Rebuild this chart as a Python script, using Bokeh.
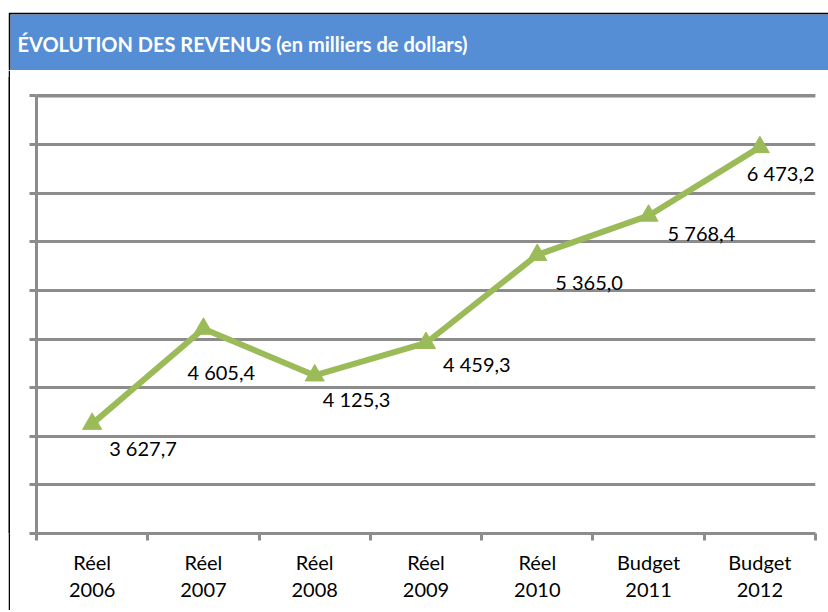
from bokeh.plotting import figure
from bokeh.models import (ColumnDataSource, FixedTicker, SingleIntervalTicker,
                          Range1d, Label)
from bokeh.layouts import column, row
from bokeh.core.properties import value
from bokeh.embed import file_html
from bokeh.resources import INLINE

# ---- data ----
categories = ["Réel\n2006", "Réel\n2007", "Réel\n2008", "Réel\n2009",
              "Réel\n2010", "Budget\n2011", "Budget\n2012"]
revenus = [3627.7, 4605.4, 4125.3, 4459.3, 5365.0, 5768.4, 6473.2]
labels = ["3 627,7", "4 605,4", "4 125,3", "4 459,3", "5 365,0", "5 768,4", "6 473,2"]
y_min, y_max, y_step = 2500, 7000, 500
title_text = "ÉVOLUTION DES REVENUS (en milliers de dollars)"

# label placement offsets (screen px, from each point)
label_dx = [17, -16, 8, 17, 18, 19, -13]
label_dy = [24, 43, 24, 21, 27, 17, 26]

GREEN = "#9BBB59"
GRAY = "#8C8C8C"
BLUE = "#558ED5"
FONT = "Lato"

centers = [i + 0.5 for i in range(len(categories))]
bounds = list(range(len(categories) + 1))

src = ColumnDataSource(dict(x=centers, y=revenus, lab=labels, dx=label_dx, dy=label_dy))

# ---- title bar (black top/left border around a blue band) ----
t = figure(width=820, height=58, output_backend="svg", toolbar_location=None,
           x_range=Range1d(0, 818), y_range=Range1d(0, 56),
           x_axis_type=None, y_axis_type=None,
           min_border_left=2, min_border_top=2, min_border_right=0, min_border_bottom=0,
           background_fill_color=BLUE, border_fill_color="black",
           outline_line_color=None)
t.grid.visible = False
t.add_layout(Label(x=7, y=27, text=title_text,
                   text_color="white", text_font=FONT, text_font_style="bold",
                   text_font_size="20px", text_baseline="middle"))

# left black border strip next to the chart
s = figure(width=2, height=540, output_backend="svg", toolbar_location=None,
           x_axis_type=None, y_axis_type=None, min_border=0,
           background_fill_color="black", border_fill_color="black",
           outline_line_color=None)
s.grid.visible = False

# ---- main chart ----
p = figure(width=818, height=540, output_backend="svg", toolbar_location=None,
           x_range=Range1d(0, len(categories)), y_range=Range1d(y_min, y_max + 2 * y_step / 5),
           min_border_left=26, min_border_right=13, min_border_top=6, min_border_bottom=77,
           background_fill_color="white", border_fill_color="white",
           outline_line_color=None)

p.xgrid.visible = False
p.ygrid.ticker = SingleIntervalTicker(interval=y_step, num_minor_ticks=0)
p.ygrid.grid_line_color = GRAY
p.ygrid.grid_line_width = 3

# top gridline at the axis maximum, drawn explicitly
p.segment(x0=[0], y0=[y_max], x1=[len(categories)], y1=[y_max],
          line_color=GRAY, line_width=3)

# y axis: ticks only, no labels
p.yaxis.ticker = SingleIntervalTicker(interval=y_step, num_minor_ticks=0)
p.yaxis.bounds = (y_min, y_max)
p.yaxis.axis_line_color = GRAY
p.yaxis.axis_line_width = 3
p.yaxis.major_tick_line_color = GRAY
p.yaxis.major_tick_line_width = 3
p.yaxis.major_tick_out = 7
p.yaxis.major_tick_in = 0
p.yaxis.minor_tick_line_color = None
p.yaxis.major_label_text_color = None
p.yaxis.major_label_standoff = 0

# x axis: boundary ticks, category labels at centres
p.xaxis.ticker = FixedTicker(ticks=centers, minor_ticks=bounds)
p.xaxis.major_label_overrides = {c: cat for c, cat in zip(centers, categories)}
p.xaxis.axis_line_color = GRAY
p.xaxis.axis_line_width = 3
p.xaxis.major_tick_line_color = None
p.xaxis.minor_tick_line_color = GRAY
p.xaxis.minor_tick_line_width = 3
p.xaxis.minor_tick_out = 7
p.xaxis.minor_tick_in = 0
p.xaxis.major_label_standoff = 9
p.xaxis.major_label_text_font = FONT
p.xaxis.major_label_text_font_size = "20px"
p.xaxis.major_label_text_color = "black"
p.xaxis.major_label_text_line_height = 1.15

p.line("x", "y", source=src, line_color=GREEN, line_width=6, line_join="round")
p.scatter("x", "y", source=src, marker="triangle", size=19,
          fill_color=GREEN, line_color=GREEN)
p.text("x", "y", text="lab", source=src, x_offset="dx", y_offset="dy",
       text_font=value(FONT), text_font_size="20px", text_color="black",
       text_baseline="middle", text_align="left")

layout = column(t, row(s, p, spacing=0), spacing=0, margin=(12, 0, 0, 8))

open("out.html", "w").write(file_html(layout, INLINE))
